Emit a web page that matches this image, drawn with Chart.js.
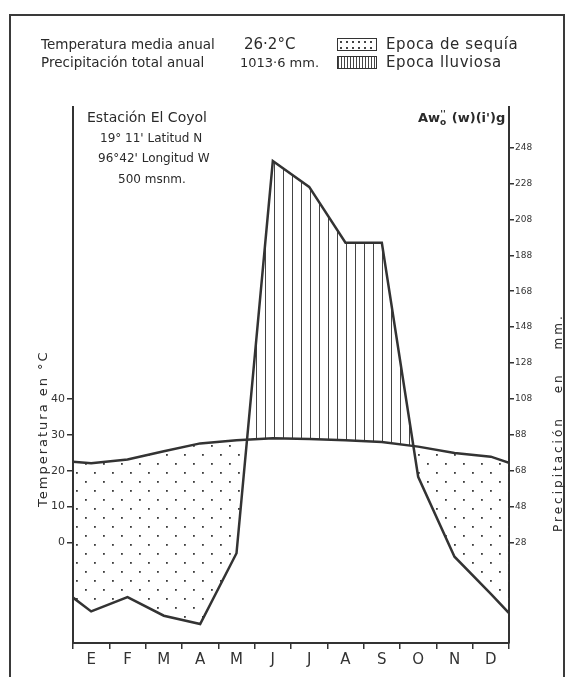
<!DOCTYPE html>
<html>
<head>
<meta charset="utf-8">
<script src="https://cdn.jsdelivr.net/npm/chart.js@4.4.0/dist/chart.umd.min.js"></script>
<style>
  body { margin: 0; background: #fff; font-family: "DejaVu Sans", sans-serif; color: #2a2a2a; }
  #wrap { position: relative; width: 570px; height: 677px; overflow: hidden; }
  #frame { position: absolute; left: 9px; top: 14px; width: 556px; height: 700px; border: 2px solid #3a3a3a; box-sizing: border-box; }
  canvas { position: absolute; left: 0; top: 0; }
  .t { position: absolute; white-space: nowrap; font-size: 13px; line-height: 1; }
  .box { position: absolute; width: 40px; height: 13px; border: 1px solid #333; box-sizing: border-box; }
  .rot { position: absolute; white-space: nowrap; font-size: 13px; letter-spacing: 2px; transform-origin: 0 0; transform: rotate(-90deg); }
</style>
</head>
<body>
<div id="wrap">
  <div id="frame"></div>
  <canvas id="clima" width="570" height="677"></canvas>

  <div class="t" style="left:41px;top:38px;font-size:13.5px;">Temperatura media anual</div>
  <div class="t" style="left:244px;top:37px;font-size:15px;">26·2°C</div>
  <div class="t" style="left:41px;top:56px;font-size:13.5px;">Precipitación total anual</div>
  <div class="t" style="left:240px;top:56px;font-size:13px;">1013·6 mm.</div>
  <div class="box" id="box-dry" style="left:337px;top:38px;"></div>
  <div class="t" style="left:386px;top:37px;font-size:15px;letter-spacing:0.6px;">Epoca de sequía</div>
  <div class="box" id="box-wet" style="left:337px;top:56px;"></div>
  <div class="t" style="left:386px;top:55px;font-size:15px;letter-spacing:0.6px;">Epoca lluviosa</div>

  <div class="t" style="left:87px;top:110px;font-size:14px;">Estación El Coyol</div>
  <div class="t" style="left:100px;top:132px;font-size:12px;">19° 11' Latitud N</div>
  <div class="t" style="left:98px;top:152px;font-size:12px;">96°42' Longitud W</div>
  <div class="t" style="left:118px;top:173px;font-size:12px;">500 msnm.</div>
  <div class="t" style="left:418px;top:111px;font-weight:bold;">Aw<span style="font-size:9px;position:relative;top:3px;">o</span><span style="font-size:9px;position:relative;top:-5px;left:-6px;">''</span>(w)(i')g</div>

  <div class="rot" style="left:35px;top:507px;">Temperatura en °C</div>
  <div class="rot" style="left:551px;top:532px;font-size:12px;letter-spacing:3px;word-spacing:16px;">Precipitación en mm.</div>
</div>

<script>
// Climograma, Estación El Coyol

const months = ['E', 'F', 'M', 'A', 'M', 'J', 'J', 'A', 'S', 'O', 'N', 'D'];
// first and last points sit on the axis edges, the rest at mid-month
const xPos = [0, 0.5, 1.5, 2.5, 3.5, 4.5, 5.5, 6.5, 7.5, 8.5, 9.5, 10.5, 11.5, 12];
const temperature = [22.5, 22.1, 23.1, 25.4, 27.6, 28.5, 29.0, 28.8, 28.5, 28.0, 26.7, 24.9, 23.9, 22.2];
const precipitation = [-2.7, -10.4, -2.4, -12.8, -17.4, 22.0, 240.5, 226.1, 195, 195, 64.6, 20.1, -0.6, -11.3];

const tempTicks = [0, 10, 20, 30, 40];
const precTicks = [28, 48, 68, 88, 108, 128, 148, 168, 188, 208, 228, 248];
const xTicks = [0, 0.5, 1, 1.5, 2, 2.5, 3, 3.5, 4, 4.5, 5, 5.5, 6, 6.5, 7, 7.5, 8, 8.5, 9, 9.5, 10, 10.5, 11, 11.5, 12];

const INK = '#333';

function makeHatch() {
  const c = document.createElement('canvas');
  c.width = 9; c.height = 9;
  const g = c.getContext('2d');
  g.fillStyle = '#444';
  g.fillRect(4, 0, 1, 9);
  return g.createPattern(c, 'repeat');
}

function makeDots() {
  const c = document.createElement('canvas');
  c.width = 18; c.height = 18;
  const g = c.getContext('2d');
  g.fillStyle = '#3c3c3c';
  g.fillRect(4, 4, 1.8, 1.8);
  g.fillRect(13, 13, 1.8, 1.8);
  return g.createPattern(c, 'repeat');
}

// legend swatches in the header
document.getElementById('box-dry').style.background =
  'radial-gradient(circle, #444 0.8px, transparent 1.2px) 0 0 / 6px 6px';
document.getElementById('box-wet').style.background =
  'repeating-linear-gradient(90deg, #444 0 1px, transparent 1px 3px)';

const ctx = document.getElementById('clima').getContext('2d');
new Chart(ctx, {
  type: 'line',
  data: {
    datasets: [{
      label: 'Temperatura',
      data: xPos.map((x, i) => ({ x, y: temperature[i] })),
      yAxisID: 'y',
      borderColor: INK, borderWidth: 2.5,
      pointRadius: 0, tension: 0, fill: false
    }, {
      label: 'Precipitación',
      data: xPos.map((x, i) => ({ x, y: precipitation[i] })),
      yAxisID: 'y2',
      borderColor: INK, borderWidth: 2.5,
      pointRadius: 0, tension: 0,
      fill: { target: '-1', above: makeHatch(), below: makeDots() }
    }]
  },
  options: {
    responsive: false, animation: false, devicePixelRatio: 1,
    layout: { padding: { left: 43, right: 31, top: 107, bottom: 4 } },
    plugins: { legend: { display: false }, tooltip: { enabled: false } },
    scales: {
      x: {
        type: 'linear', min: 0, max: 12,
        afterBuildTicks: s => { s.ticks = xTicks.map(v => ({ value: v })); },
        afterFit: s => { s.height = 30; },
        border: { color: INK, width: 2 },
        grid: {
          drawOnChartArea: false, tickLength: 6, lineWidth: 1.5,
          color: c => (c.tick && Number.isInteger(c.tick.value)) ? INK : 'rgba(0,0,0,0)'
        },
        ticks: {
          autoSkip: false, maxRotation: 0, color: INK, padding: 2,
          font: { family: 'DejaVu Sans', size: 15 },
          callback: v => Number.isInteger(v) ? '' : months[Math.floor(v)]
        }
      },
      y: {
        position: 'left', min: -28, max: 121.3,
        afterBuildTicks: s => { s.ticks = tempTicks.map(v => ({ value: v })); },
        afterFit: s => { s.width = 30; },
        border: { color: INK, width: 2 },
        grid: { drawOnChartArea: false, tickLength: 6, color: INK, lineWidth: 1.5 },
        ticks: { color: INK, font: { family: 'DejaVu Sans', size: 11 }, padding: 2 }
      },
      y2: {
        position: 'right', min: -28, max: 270.6,
        afterBuildTicks: s => { s.ticks = precTicks.map(v => ({ value: v })); },
        afterFit: s => { s.width = 30; },
        border: { color: INK, width: 2 },
        grid: { drawOnChartArea: false, tickLength: 5, color: INK, lineWidth: 1.5 },
        ticks: { color: INK, font: { family: 'DejaVu Sans', size: 9 }, padding: 1 }
      }
    }
  }
});
</script>
</body>
</html>
